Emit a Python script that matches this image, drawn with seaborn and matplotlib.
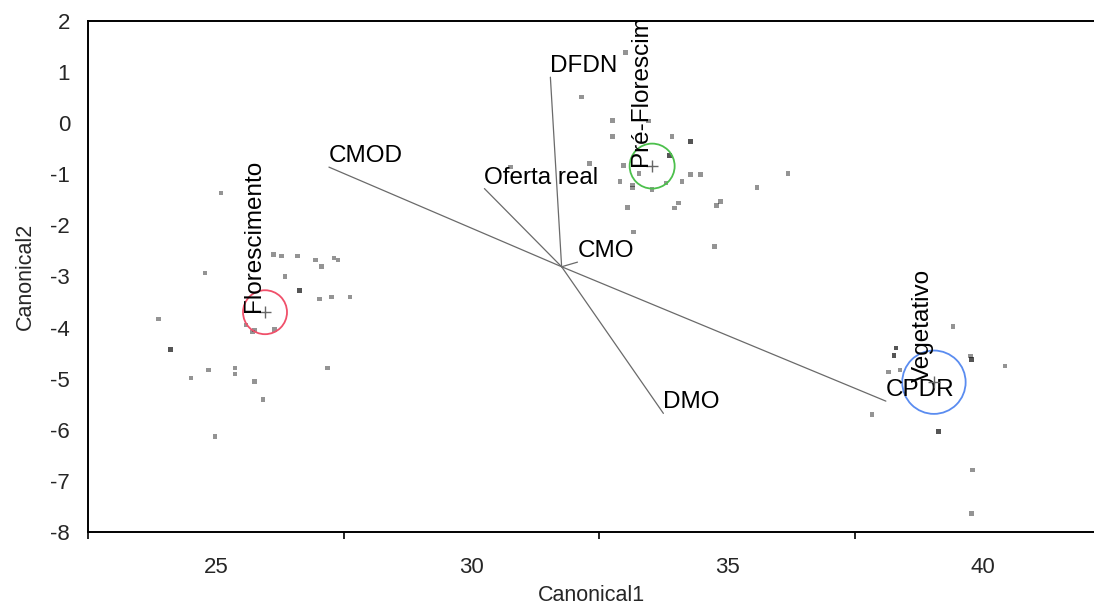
import numpy as np
import pandas as pd
import matplotlib
matplotlib.use("Agg")
import matplotlib.pyplot as plt
from matplotlib.patches import Circle
from matplotlib.ticker import MultipleLocator
import seaborn as sns

# Canonical scores per observation (Canonical1, Canonical2) by phenological stage
flor_x = [25.10, 24.79, 26.13, 26.28, 26.60, 26.95, 27.07, 27.31, 27.39, 26.35,
          26.64, 26.64, 27.03, 27.26, 27.62, 23.88, 25.59, 25.75, 25.72, 26.14,
          24.11, 24.11, 24.86, 25.37, 25.37, 24.51, 27.18, 25.76, 25.92, 24.98]
flor_y = [-1.37, -2.93, -2.57, -2.60, -2.60, -2.68, -2.80, -2.64, -2.68, -3.00,
          -3.28, -3.28, -3.44, -3.40, -3.40, -3.83, -3.95, -4.05, -4.09, -4.04,
          -4.43, -4.43, -4.83, -4.79, -4.91, -4.99, -4.79, -5.06, -5.41, -6.13]

pre_x = [33.01, 32.15, 32.75, 33.46, 32.75, 33.92, 34.28, 34.28, 33.87, 33.87,
         30.76, 32.31, 32.97, 33.27, 34.28, 34.47, 32.90, 33.14, 33.14, 33.53,
         33.80, 34.11, 35.58, 36.19, 33.05, 33.97, 34.05, 34.79, 34.87, 33.17, 34.75]
pre_y = [1.38, 0.51, 0.05, 0.04, -0.26, -0.26, -0.36, -0.36, -0.63, -0.63,
         -0.86, -0.79, -0.83, -0.99, -1.01, -1.01, -1.14, -1.21, -1.27, -1.30,
         -1.17, -1.14, -1.26, -0.99, -1.65, -1.66, -1.56, -1.61, -1.53, -2.13, -2.41]

veg_x = [39.41, 38.30, 38.30, 38.26, 38.26, 39.75, 39.78, 39.78, 40.43, 38.15,
         38.38, 37.83, 39.13, 39.13, 39.80, 39.77]
veg_y = [-3.98, -4.40, -4.40, -4.55, -4.55, -4.56, -4.63, -4.63, -4.75, -4.87,
         -4.83, -5.70, -6.04, -6.04, -6.79, -7.64]

# Group means and confidence-circle radii
groups = ["Florescimento", "Pré-Florescimento", "Vegetativo"]
mean_x = [25.96, 33.53, 39.04]
mean_y = [-3.70, -0.84, -5.07]
radius = [0.43, 0.44, 0.62]
circle_colors = ["#f0506a", "#4cc04c", "#5a8cf0"]

# Biplot rays for the original variables
ray_origin = (31.76, -2.81)
var_names = ["CMOD", "Oferta real", "DFDN", "CMO", "DMO", "CPDR"]
var_x = [27.21, 30.25, 31.54, 32.07, 33.75, 38.10]
var_y = [-0.86, -1.28, 0.90, -2.72, -5.68, -5.44]

sns.set_theme(style="white")
plt.rcParams["font.family"] = ["Liberation Sans", "DejaVu Sans"]
plt.rcParams["axes.unicode_minus"] = False

fig = plt.figure(figsize=(10.94, 6.10), dpi=100)
ax = fig.add_axes([0.0805, 0.128, 0.9195, 0.8376])

obs = pd.DataFrame({
    "Canonical1": flor_x + pre_x + veg_x,
    "Canonical2": flor_y + pre_y + veg_y,
})
sns.scatterplot(data=obs, x="Canonical1", y="Canonical2", ax=ax,
                marker="s", s=11, color="black", alpha=0.42,
                edgecolor="none", linewidth=0, zorder=3)

# Rays from the common origin
for name, vx, vy in zip(var_names, var_x, var_y):
    ax.plot([ray_origin[0], vx], [ray_origin[1], vy], color="#6a6a6a",
            lw=0.9, zorder=2)
    ax.text(vx, vy, name, ha="left", va="bottom", fontsize=17.5,
            color="black", zorder=4)

# Group means, circles and rotated labels
for g, mx, my, r, c in zip(groups, mean_x, mean_y, radius, circle_colors):
    ax.add_patch(Circle((mx, my), r, fill=False, edgecolor=c, lw=1.3, zorder=3))
    ax.plot([mx], [my], marker="+", color="#666666", ms=8, mew=1.0, zorder=4)
    ax.text(mx, my, g, rotation=90, ha="right", va="bottom", fontsize=17.5,
            color="black", clip_on=True, zorder=4)

ax.set_xlim(22.5, 42.17)
ax.set_ylim(-8, 2)
ax.xaxis.set_major_locator(MultipleLocator(5))
ax.xaxis.set_minor_locator(MultipleLocator(2.5))
ax.yaxis.set_major_locator(MultipleLocator(1))

ax.set_xlabel("Canonical1", fontsize=15.5, labelpad=5)
ax.set_ylabel("Canonical2", fontsize=15.5, labelpad=10)

for side in ["left", "bottom", "top"]:
    ax.spines[side].set_visible(True)
    ax.spines[side].set_color("black")
    ax.spines[side].set_linewidth(1.4)
ax.spines["right"].set_visible(False)

ax.tick_params(axis="both", which="major", direction="out", length=8,
               width=1.2, color="black", labelsize=16, pad=5)
ax.tick_params(axis="x", which="major", length=10, pad=8)
ax.tick_params(axis="x", which="minor", direction="out", length=5,
               width=1.2, color="black", bottom=True)
ax.tick_params(axis="x", which="both", top=False)

fig.savefig("out.png", dpi=100)
